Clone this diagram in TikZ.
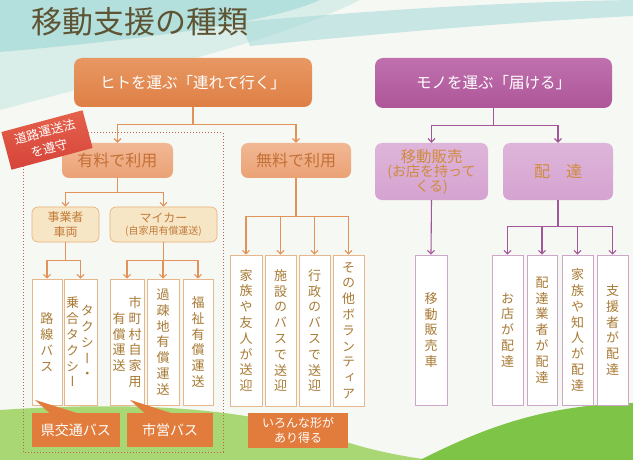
\documentclass[tikz,border=0pt]{standalone}
\usepackage{fontspec}
\setmainfont{Noto Sans CJK JP}
\newfontfamily\vjp[RawFeature=+vert]{Noto Sans CJK JP}
\usetikzlibrary{arrows.meta,calc}
\definecolor{bgc}{HTML}{F6F8F3}
\definecolor{teal1}{HTML}{A3D9D7}
\definecolor{orMain}{HTML}{DE7F45}
\definecolor{orMainTop}{HTML}{E89863}
\definecolor{orMid}{HTML}{EBA175}
\definecolor{orMidTop}{HTML}{F1B894}
\definecolor{orMidText}{HTML}{C46F36}
\definecolor{tanFill}{HTML}{F7E6C6}
\definecolor{tanLine}{HTML}{E9AE74}
\definecolor{tanText}{HTML}{C27A38}
\definecolor{orLine}{HTML}{E3925A}
\definecolor{tallLine}{HTML}{E6B78C}
\definecolor{tallText}{HTML}{A87A34}
\definecolor{callC}{HTML}{E27C3C}
\definecolor{redC}{HTML}{D6433A}
\definecolor{redTop}{HTML}{E5624B}
\definecolor{dotC}{HTML}{C0604F}
\definecolor{puMain}{HTML}{AE5699}
\definecolor{puMainTop}{HTML}{BF70AD}
\definecolor{puMid}{HTML}{D5A3D0}
\definecolor{puMidTop}{HTML}{DEB5DA}
\definecolor{puText}{HTML}{D08B3E}
\definecolor{puLine}{HTML}{A3579A}
\definecolor{puTall}{HTML}{CDA6C8}
\definecolor{titleC}{HTML}{5E5434}
\definecolor{grass1}{HTML}{A9D774}
\definecolor{grass2}{HTML}{7EC447}
\tikzset{
  mainor/.style={rounded corners=8pt, top color=orMainTop, bottom color=orMain, text=white,
    font=\fontsize{15.5}{18}\selectfont, inner sep=0pt, align=center},
  mainpu/.style={rounded corners=8pt, top color=puMainTop, bottom color=puMain, text=white,
    font=\fontsize{15.5}{18}\selectfont, inner sep=0pt, align=center},
  midor/.style={rounded corners=7pt, top color=orMidTop, bottom color=orMid, text=orMidText,
    font=\fontsize{16}{18}\selectfont, inner sep=0pt, align=center},
  midpu/.style={rounded corners=7pt, top color=puMidTop, bottom color=puMid, text=puText,
    inner sep=0pt, align=center},
  tanbox/.style={rounded corners=6pt, fill=tanFill, draw=tanLine, line width=0.6pt, text=tanText,
    inner sep=0pt, align=center},
  tall/.style={draw=tallLine, line width=0.7pt, fill=white, inner sep=0pt, align=center,
    text=tallText, font=\vjp\fontsize{13}{15.8}\selectfont},
  tallpu/.style={tall, draw=puTall},
  vtext/.style={inner sep=0pt, align=center, text=tallText, font=\vjp\fontsize{13}{15.8}\selectfont},
  callout/.style={fill=callC, text=white, inner sep=0pt, align=center},
  redlab/.style={top color=redTop, bottom color=redC, text=white, inner sep=0pt, align=center,
    font=\fontsize{12.5}{17}\selectfont},
  oarr/.style={draw=orLine, line width=1.1pt, -{Straight Barb[length=3.5pt,width=7pt]}},
  parr/.style={draw=puLine, line width=1.1pt, -{Straight Barb[length=3.5pt,width=7pt]}},
}
\begin{document}
\begin{tikzpicture}[x=1pt,y=-1pt]
\useasboundingbox (0,0) rectangle (633,460);
% background
\fill[bgc] (0,0) rectangle (633,460);
\fill[teal1,opacity=.8] (0,0) -- (320,0) .. controls (270,22) and (160,38) .. (0,52) -- cycle;
\fill[teal1,opacity=.35] (0,52) .. controls (160,38) and (270,22) .. (320,0) -- (360,0) .. controls (280,40) and (150,70) .. (0,110) -- cycle;
\fill[teal1,opacity=.55] (240,22) .. controls (380,10) and (500,2) .. (633,0) -- (633,16) .. controls (480,24) and (360,36) .. (250,46) -- cycle;
% grass
\fill[grass1] (0,410) .. controls (150,400) and (260,410) .. (340,440) .. controls (370,450) and (400,456) .. (430,460) -- (0,460) -- cycle;
\fill[grass2] (420,460) .. controls (480,430) and (540,405) .. (633,403) -- (633,460) -- cycle;
% title
\node[anchor=west, text=titleC, font=\fontsize{31}{33}\selectfont, inner sep=0pt] (title) at (31,22) {移動支援の種類};
% dotted frame
\draw[dotC, dotted, line width=1pt] (23,133) rectangle (223,452);
% left tree
\node[mainor, minimum width=238pt, minimum height=49pt] (hito) at (193,82.5) {ヒトを運ぶ「連れて行く」};
\node[midor, minimum width=111pt, minimum height=35pt] (yuryo) at (117.5,160.5) {有料で利用};
\node[midor, minimum width=110pt, minimum height=35pt] (muryo) at (296,160.5) {無料で利用};
\node[tanbox, minimum width=67pt, minimum height=35pt, font=\fontsize{12}{14.5}\selectfont] (jigyo) at (65.5,224.5) {事業者\\車両};
\node[tanbox, minimum width=107pt, minimum height=35pt] (mycar) at (163.5,224.5) {{\fontsize{12}{14.5}\selectfont マイカー}\\{\fontsize{10}{14.5}\selectfont (自家用有償運送)}};
\node[tall, minimum width=30pt, minimum height=126pt] (rosen) at (47,342) {路\\線\\バ\\ス};
\node[tall, minimum width=33pt, minimum height=126pt] (taxi) at (80.5,342) {};
\node[vtext] (taxiR) at ($(taxi.center)+(7,0)$) {タ\\ク\\シ\\ー\\・};
\node[vtext] (taxiL) at ($(taxi.center)+(-8,0)$) {乗\\合\\タ\\ク\\シ\\ー};
\node[tall, minimum width=34pt, minimum height=126pt] (shicho) at (127,342) {};
\node[vtext] (shichoR) at ($(shicho.center)+(8,0)$) {市\\町\\村\\自\\家\\用};
\node[vtext] (shichoL) at ($(shicho.center)+(-8,0)$) {有\\償\\運\\送};
\node[tall, minimum width=32pt, minimum height=126pt] (kaso) at (163,342) {過\\疎\\地\\有\\償\\運\\送};
\node[tall, minimum width=30pt, minimum height=126pt] (fukushi) at (198,342) {福\\祉\\有\\償\\運\\送};
\node[tall, minimum width=32pt, minimum height=151pt] (kazoku) at (246,330.5) {家\\族\\や\\友\\人\\が\\送\\迎};
\node[tall, minimum width=31pt, minimum height=151pt] (shisetsu) at (280.5,330.5) {施\\設\\の\\バ\\ス\\で\\送\\迎};
\node[tall, minimum width=31pt, minimum height=151pt] (gyosei) at (314.5,330.5) {行\\政\\の\\バ\\ス\\で\\送\\迎};
\node[tall, minimum width=31pt, minimum height=151pt] (sonota) at (348.5,330.5) {そ\\の\\他\\ボ\\ラ\\ン\\テ\\ィ\\ア};
% callouts
\node[callout, minimum width=88pt, minimum height=34pt, font=\fontsize{14}{16}\selectfont] (kenbus) at (76,430) {県交通バス};
\fill[callC] ($(kenbus.north west)+(18,0.5)$) -- ($(kenbus.north west)+(3,-13)$) -- ($(kenbus.north west)+(46,0.5)$) -- cycle;
\node[callout, minimum width=86pt, minimum height=34pt, font=\fontsize{14}{16}\selectfont] (shiei) at (170,430) {市営バス};
\fill[callC] ($(shiei.north west)+(18,0.5)$) -- ($(shiei.north west)+(3,-13)$) -- ($(shiei.north west)+(45,0.5)$) -- cycle;
\node[callout, minimum width=100pt, minimum height=35pt, font=\fontsize{12}{14.5}\selectfont] (iron) at (298,430.5) {いろんな形が\\あり得る};
% left connectors
\draw[oarr] (hito.south) |- ($(yuryo.north)+(0,-18)$) -- (yuryo.north);
\draw[oarr] (hito.south) |- ($(muryo.north)+(0,-18)$) -- (muryo.north);
\draw[oarr] (yuryo.south) |- ($(jigyo.north)+(0,-14)$) -- (jigyo.north);
\draw[oarr] (yuryo.south) |- ($(mycar.north)+(0,-14)$) -- (mycar.north);
\draw[oarr] (jigyo.south) |- ($(rosen.north)+(0,-18)$) -- (rosen.north);
\draw[oarr] (jigyo.south) |- ($(taxi.north)+(0,-18)$) -- (taxi.north);
\draw[oarr] (mycar.south) |- ($(shicho.north)+(0,-18)$) -- (shicho.north);
\draw[oarr] (mycar.south) |- ($(kaso.north)+(0,-18)$) -- (kaso.north);
\draw[oarr] (mycar.south) |- ($(fukushi.north)+(0,-18)$) -- (fukushi.north);
\draw[oarr] (muryo.south) |- ($(kazoku.north)+(0,-38)$) -- (kazoku.north);
\draw[oarr] (muryo.south) |- ($(shisetsu.north)+(0,-38)$) -- (shisetsu.north);
\draw[oarr] (muryo.south) |- ($(gyosei.north)+(0,-38)$) -- (gyosei.north);
\draw[oarr] (muryo.south) |- ($(sonota.north)+(0,-38)$) -- (sonota.north);
% right tree
\node[mainpu, minimum width=237pt, minimum height=50pt] (mono) at (493.5,83) {モノを運ぶ「届ける」};
\node[midpu, minimum width=113pt, minimum height=57pt] (ido) at (431.5,171.5) {{\fontsize{15.5}{18}\selectfont 移動販売}\\{\fontsize{14}{17.5}\selectfont (お店を持って}\\{\fontsize{14}{17.5}\selectfont くる)}};
\node[midpu, minimum width=110pt, minimum height=57pt, font=\fontsize{16}{18}\selectfont] (haitatsu) at (558,171.5) {配　達};
\node[tallpu, minimum width=32pt, minimum height=150pt] (idocar) at (431,330) {移\\動\\販\\売\\車};
\node[tallpu, minimum width=31pt, minimum height=150pt] (omise) at (507.5,330) {お\\店\\が\\配\\達};
\node[tallpu, minimum width=30pt, minimum height=150pt] (gyosha) at (542,330) {配\\達\\業\\者\\が\\配\\達};
\node[tallpu, minimum width=31pt, minimum height=150pt] (kazoku2) at (577.5,330) {家\\族\\や\\知\\人\\が\\配\\達};
\node[tallpu, minimum width=31pt, minimum height=150pt] (shien) at (612.5,330) {支\\援\\者\\が\\配\\達};
\draw[parr] (mono.south) |- ($(ido.north)+(0,-17)$) -- (ido.north);
\draw[parr] (mono.south) |- ($(haitatsu.north)+(0,-17)$) -- (haitatsu.north);
\draw[parr] (ido.south) -- (idocar.north);
\draw[parr] (haitatsu.south) |- ($(omise.north)+(0,-28)$) -- (omise.north);
\draw[parr] (haitatsu.south) |- ($(gyosha.north)+(0,-28)$) -- (gyosha.north);
\draw[parr] (haitatsu.south) |- ($(kazoku2.north)+(0,-28)$) -- (kazoku2.north);
\draw[parr] (haitatsu.south) |- ($(shien.north)+(0,-28)$) -- (shien.north);
% red label
\node[redlab, rotate=15, minimum width=84pt, minimum height=39pt] (law) at (47,140) {道路運送法\\を遵守};
\end{tikzpicture}
\end{document}
